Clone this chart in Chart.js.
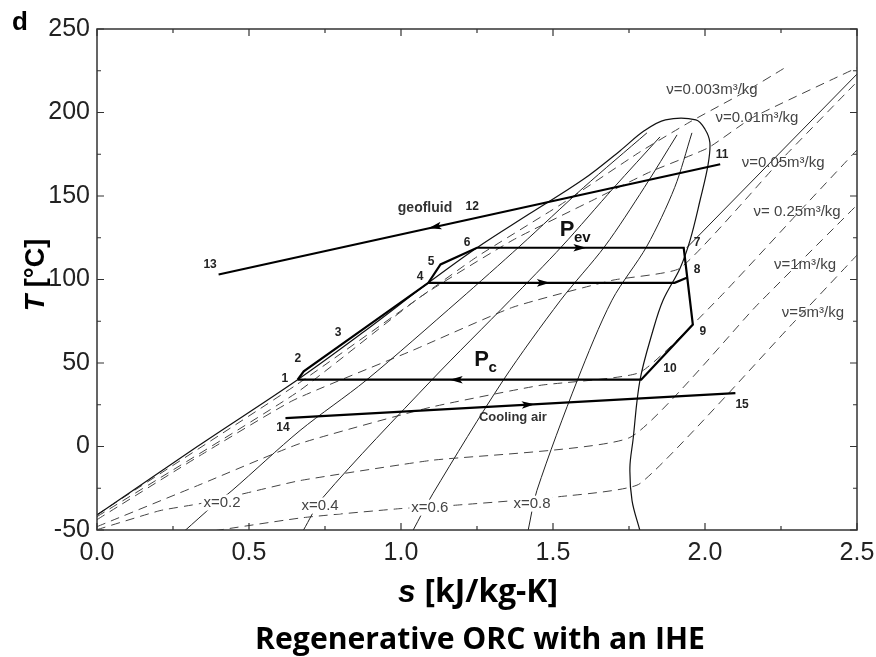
<!DOCTYPE html>
<html><head><meta charset="utf-8">
<script src="https://cdn.jsdelivr.net/npm/chart.js@4/dist/chart.umd.min.js"></script>
<style>html,body{margin:0;padding:0;background:#fff;}#wrap{width:876px;height:657px;}</style>
</head><body><div id="wrap"><canvas id="c" width="876" height="657"></canvas></div>
<script>
// ---- axis ticks ----
const sTicks = [0, 0.5, 1.0, 1.5, 2.0, 2.5];
const sTickLabels = ['0.0','0.5','1.0','1.5','2.0','2.5'];
const tTicks = [-50, 0, 50, 100, 150, 200, 250];
const tTickLabels = ['-50','0','50','100','150','200','250'];

// ---- saturation dome (s [kJ/kg-K], T [°C]) ----
const domeS = [0, 0.33, 0.66, 0.88, 1.09, 1.25, 1.42, 1.60, 1.72, 1.80, 1.87, 1.97, 2.00, 2.016, 2.01, 1.984, 1.951, 1.918, 1.862, 1.829, 1.786, 1.763, 1.753, 1.76, 1.786];
const domeT = [-41, 0, 40, 69, 98, 119, 139, 160, 177, 189, 195.6, 195.6, 190, 182, 168.6, 147.6, 123.6, 106.8, 87.6, 69.6, 39.6, 3.6, -12.6, -32.4, -50.4];

// ---- quality lines ----
const q02S = [0.289, 0.382, 0.444, 0.668, 0.885, 1.191, 1.391, 1.60, 1.809];
const q02T = [-50.4, -35.4, -26.4, 9.6, 39.6, 87.6, 120, 155, 187.8];
const q04S = [0.678, 0.743, 1.10, 1.359, 1.53, 1.70, 1.852];
const q04T = [-50.4, -30.6, 39.6, 87.6, 120, 155, 185.4];
const q06S = [1.039, 1.105, 1.336, 1.525, 1.671, 1.80, 1.908];
const q06T = [-50.4, -28.2, 39.6, 87.6, 120, 155, 186.6];
const q08S = [1.418, 1.447, 1.58, 1.694, 1.809, 1.90, 1.957];
const q08T = [-50.4, -26.4, 39.6, 87.6, 120, 155, 187.8];

// ---- constant specific volume lines (dashed) ----
const v0003S = [0, 0.658, 1.095, 1.253, 1.523, 1.786, 1.951, 2.132, 2.263];
const v0003T = [-40.8, 37.2, 93.6, 114, 144.6, 176.4, 194.4, 212.4, 226.8];
const v001S = [0, 0.658, 1.0625, 1.368, 1.632, 1.819, 2.01, 2.155, 2.5];
const v001T = [-42, 32.4, 89.4, 123.6, 147.6, 164.4, 178.8, 196.8, 226.8];
const v005S = [0, 0.339, 0.645, 1.039, 1.368, 1.697, 1.918, 2.247, 2.5];
const v005T = [-43.8, -5.4, 27.6, 57.6, 83.4, 99.6, 106.8, 171, 218.4];
const v025S = [0, 0.339, 0.668, 1.095, 1.457, 1.786, 2.039, 2.312, 2.5];
const v025T = [-48, -22.8, 1.8, 23.4, 36.6, 44.4, 87.6, 141, 177.6];
const v1S = [0, 0.207, 0.339, 0.47, 0.668, 1.095, 1.753, 2.171, 2.5];
const v1T = [-49.8, -38.4, -34.2, -28.8, -20.4, -8.4, 5.4, 84.6, 144.6];
const v5S = [0.388, 0.678, 0.997, 1.161, 1.523, 1.786, 2.289, 2.5];
const v5T = [-50.4, -42.6, -37.2, -35.4, -30, -22.2, 73.8, 114.6];

// ---- cycle and secondary fluids ----
const cycleS = [0.66, 0.68, 1.09, 1.13, 1.25, 1.93, 1.96, 1.79, 0.66];
const cycleT = [40, 45, 98, 109, 119, 119, 73, 40, 40];
const regenS = [1.09, 1.90, 1.94];
const regenT = [98, 98, 101];
const pevIsoS = [1.94, 2.5];
const pevIsoT = [119, 223];
const geoS = [2.05, 0.40];
const geoT = [169, 103];
const airS = [0.62, 2.10];
const airT = [17, 32];

// ---- flow arrows (position and point they head to) ----
const arrowAtS = [1.11, 1.59, 1.47, 1.18, 1.42];
const arrowAtT = [131.4, 119, 98, 40, 25.1];
const arrowToS = [0.40, 1.93, 1.90, 0.66, 2.10];
const arrowToT = [103, 119, 98, 40, 32];

// ---- annotations ----
const ptText = ['1','2','3','4','5','6','7','8','9','10','11','12','13','14','15'];
const ptS = [0.618, 0.661, 0.793, 1.063, 1.099, 1.217, 1.974, 1.974, 1.993, 1.885, 2.056, 1.234, 0.372, 0.612, 2.122];
const ptT = [40.8, 52.8, 68.4, 101.4, 110.4, 121.8, 121.8, 105.6, 69, 46.8, 174.6, 143.4, 108.6, 11.4, 25.2];
const vText = ['ν=0.003m³/kg','ν=0.01m³/kg','ν=0.05m³/kg','ν= 0.25m³/kg','ν=1m³/kg','ν=5m³/kg'];
const vS = [2.023, 2.171, 2.257, 2.303, 2.329, 2.355];
const vT = [213.6, 196.8, 169.8, 140.4, 108.6, 79.8];
const xText = ['x=0.2','x=0.4','x=0.6','x=0.8'];
const xS = [0.411, 0.734, 1.095, 1.431];
const xT = [-33.6, -35.4, -36.6, -34.2];
const fluidText = ['geofluid','Cooling air'];
const fluidS = [1.079, 1.368];
const fluidT = [142.8, 17.4];

function pts(S, T){ return S.map((s,i)=>({x:s, y:T[i]})); }
function ds(S, T, o){
  return Object.assign({data:pts(S,T), showLine:true, pointRadius:0, pointHoverRadius:0,
    borderColor:'#000', borderWidth:1, fill:false, tension:0}, o);
}
const thick = {borderColor:'#000', borderWidth:2.2, tension:0};
const dash = {borderColor:'#444', borderWidth:1, borderDash:[9,6], tension:0.15};
const thin = {borderColor:'#222', borderWidth:1, tension:0.3};

const datasets = [
  ds(cycleS, cycleT, thick),
  ds(regenS, regenT, thick),
  ds(geoS, geoT, thick),
  ds(airS, airT, thick),
  ds(domeS, domeT, {borderColor:'#111', borderWidth:1.2, tension:0.35}),
  ds(pevIsoS, pevIsoT, {borderColor:'#222', borderWidth:1}),
  ds(q02S, q02T, thin), ds(q04S, q04T, thin), ds(q06S, q06T, thin), ds(q08S, q08T, thin),
  ds(v0003S, v0003T, dash), ds(v001S, v001T, dash), ds(v005S, v005T, dash),
  ds(v025S, v025T, dash), ds(v1S, v1T, dash), ds(v5S, v5T, dash)
];

const SANS = '"Liberation Sans", Arial, sans-serif';
const deco = {
  id:'deco',
  afterDatasetsDraw(chart){
    const {ctx, chartArea:a, scales:{x, y}} = chart;
    const P = (s,t)=>[x.getPixelForValue(s), y.getPixelForValue(t)];
    ctx.save();
    // arrows
    ctx.fillStyle = '#000';
    arrowAtS.forEach((s,i)=>{
      const [px,py] = P(s, arrowAtT[i]);
      const [qx,qy] = P(arrowToS[i], arrowToT[i]);
      const ang = Math.atan2(qy-py, qx-px);
      ctx.save(); ctx.translate(px,py); ctx.rotate(ang);
      ctx.beginPath(); ctx.moveTo(6,0); ctx.lineTo(-7,-3.8); ctx.lineTo(-4,0); ctx.lineTo(-7,3.8); ctx.closePath(); ctx.fill();
      ctx.restore();
    });
    ctx.textAlign='center'; ctx.textBaseline='middle';
    // x labels with white background
    ctx.font = '15px ' + SANS;
    xText.forEach((t,i)=>{
      const [px,py] = P(xS[i], xT[i]);
      const w = ctx.measureText(t).width;
      ctx.fillStyle='#fff'; ctx.fillRect(px-w/2-2, py-8, w+4, 16);
      ctx.fillStyle='#444'; ctx.fillText(t, px, py);
    });
    // v labels
    ctx.font = '15px ' + SANS;
    ctx.fillStyle = '#444';
    vText.forEach((t,i)=>{ const [px,py]=P(vS[i], vT[i]); ctx.fillText(t, px, py); });
    // point numbers
    ctx.font = 'bold 12px ' + SANS;
    ctx.fillStyle = '#222';
    ptText.forEach((t,i)=>{ const [px,py]=P(ptS[i], ptT[i]); ctx.fillText(t, px, py); });
    // fluid names
    ctx.fillStyle = '#333';
    ctx.font = 'bold 14px ' + SANS;
    { const [px,py]=P(fluidS[0], fluidT[0]); ctx.fillText(fluidText[0], px, py); }
    ctx.font = 'bold 13px ' + SANS;
    { const [px,py]=P(fluidS[1], fluidT[1]); ctx.fillText(fluidText[1], px, py); }
    // pressure labels
    ctx.fillStyle = '#111';
    const pLab = (s,t,sub)=>{
      const [px,py]=P(s,t);
      ctx.font = 'bold 22px ' + SANS;
      ctx.fillText('P', px, py);
      ctx.font = 'bold 15px ' + SANS;
      ctx.textAlign='left'; ctx.fillText(sub, px+7, py+8); ctx.textAlign='center';
    };
    pLab(1.546, 129.6, 'ev');
    pLab(1.265, 51.6, 'c');
    // frame
    ctx.strokeStyle = '#333'; ctx.lineWidth = 1.5;
    ctx.strokeRect(a.left, a.top, a.right-a.left, a.bottom-a.top);
    // inward ticks
    ctx.lineWidth = 1.2; ctx.beginPath();
    for (let k=0;k<=10;k++){
      const v = k*0.25, px = x.getPixelForValue(v), L = (k%2===0)?7:4;
      ctx.moveTo(px,a.bottom); ctx.lineTo(px,a.bottom-L);
      ctx.moveTo(px,a.top); ctx.lineTo(px,a.top+L);
    }
    for (let k=0;k<=12;k++){
      const v = -50+k*25, py = y.getPixelForValue(v), L = (k%2===0)?7:4;
      ctx.moveTo(a.left,py); ctx.lineTo(a.left+L,py);
      ctx.moveTo(a.right,py); ctx.lineTo(a.right-L,py);
    }
    ctx.stroke();
    // panel letter
    ctx.fillStyle='#000'; ctx.textAlign='left'; ctx.textBaseline='alphabetic';
    ctx.font = 'bold 26px ' + SANS;
    ctx.fillText('d', 12, 30);
    // y title
    ctx.save(); ctx.translate(37, 275); ctx.rotate(-Math.PI/2);
    ctx.textBaseline='middle';
    ctx.font = 'italic bold 27px ' + SANS;
    const tW = ctx.measureText('T ').width;
    ctx.font = 'bold 27px ' + SANS;
    const rW = ctx.measureText('[°C]').width;
    let x0 = -(tW+rW)/2;
    ctx.font = 'italic bold 27px ' + SANS;
    ctx.fillText('T ', x0, 0);
    ctx.font = 'bold 27px ' + SANS;
    ctx.fillText('[°C]', x0+tW, 0);
    ctx.restore();
    // x title, fitted to the reference width
    ctx.textBaseline='middle';
    let fs = 26;
    ctx.font = 'italic bold '+fs+'px ' + SANS;
    let sW = ctx.measureText('s ').width;
    ctx.font = 'bold '+fs+'px "Open Sans", Arial, sans-serif';
    let kW = ctx.measureText('[kJ/kg-K]').width;
    fs = fs * 160 / (sW + kW);
    ctx.font = 'italic bold '+fs+'px ' + SANS;
    sW = ctx.measureText('s ').width;
    ctx.font = 'bold '+fs+'px "Open Sans", Arial, sans-serif';
    kW = ctx.measureText('[kJ/kg-K]').width;
    x0 = 478 - (sW+kW)/2;
    ctx.font = 'italic bold '+fs+'px ' + SANS;
    ctx.fillText('s ', x0, 593);
    ctx.font = 'bold '+fs+'px "Open Sans", Arial, sans-serif';
    ctx.fillText('[kJ/kg-K]', x0+sW, 593);
    // caption, fitted
    ctx.textAlign='center';
    const cap = 'Regenerative ORC with an IHE';
    ctx.font = 'bold 26px "Open Sans", Arial, sans-serif';
    const cw = ctx.measureText(cap).width;
    ctx.font = 'bold ' + (26*450/cw) + 'px "Open Sans", Arial, sans-serif';
    ctx.fillText(cap, 480, 640);
    ctx.restore();
  }
};

new Chart(document.getElementById('c'), {
  type:'scatter',
  data:{datasets},
  options:{
    responsive:false, animation:false, devicePixelRatio:1,
    layout:{padding:{left:0, right:19, top:29, bottom:0}},
    plugins:{legend:{display:false}, tooltip:{enabled:false}},
    elements:{point:{radius:0}},
    scales:{
      x:{type:'linear', min:0, max:2.5,
        afterBuildTicks:s=>{ s.ticks = sTicks.map(v=>({value:v})); },
        afterFit:s=>{ s.height = 127; s.paddingLeft = 0; s.paddingRight = 0; },
        ticks:{callback:(v,i)=>sTickLabels[i], font:{size:25, family:SANS}, color:'#222', padding:8, maxRotation:0, autoSkip:false},
        grid:{display:false, drawTicks:false}, border:{display:false}},
      y:{type:'linear', min:-50, max:250,
        afterBuildTicks:s=>{ s.ticks = tTicks.map(v=>({value:v})); },
        afterFit:s=>{ s.width = 97; s.paddingTop = 0; s.paddingBottom = 0; },
        ticks:{callback:(v,i)=>tTickLabels[i], font:{size:25, family:SANS}, color:'#222', padding:7, autoSkip:false},
        grid:{display:false, drawTicks:false}, border:{display:false}}
    }
  },
  plugins:[deco]
});
</script></body></html>
